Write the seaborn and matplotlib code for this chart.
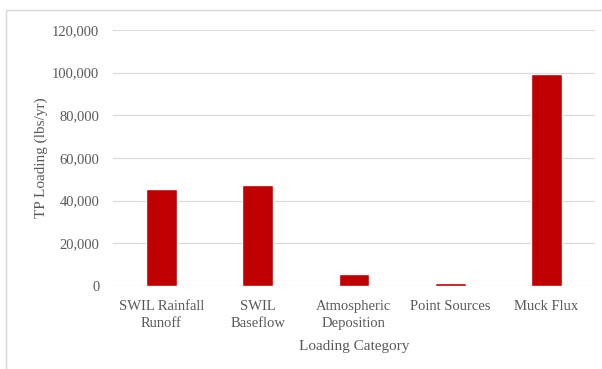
import pandas as pd
import matplotlib.pyplot as plt
import seaborn as sns
from matplotlib.patches import Rectangle
from matplotlib.ticker import FuncFormatter

# loading categories and TP loading values (lbs/yr)
categories = ['SWIL Rainfall\nRunoff', 'SWIL\nBaseflow', 'Atmospheric\nDeposition',
              'Point Sources', 'Muck Flux']
loading = [45500, 47300, 5500, 1300, 99300]
y_ticks = [0, 20000, 40000, 60000, 80000, 100000, 120000]

df = pd.DataFrame({'Loading Category': categories, 'TP Loading': loading})

sns.set_style('white')
plt.rcParams['font.family'] = ['Liberation Serif', 'DejaVu Serif']
text_color = '#595959'

fig = plt.figure(figsize=(6.02, 3.69), dpi=100)
ax = fig.add_axes([0.188, 0.225, 0.800, 0.694])

sns.barplot(data=df, x='Loading Category', y='TP Loading', color='#C00000',
            saturation=1, width=0.32, ax=ax)

ax.set_ylim(0, 120000)
ax.set_yticks(y_ticks)
ax.yaxis.set_major_formatter(FuncFormatter(lambda v, p: f'{int(v):,}'))
ax.grid(axis='y', color='#d9d9d9', linewidth=0.8)
ax.set_axisbelow(True)
for s in ax.spines.values():
    s.set_visible(False)
ax.axhline(0, color='#d9d9d9', linewidth=0.8, zorder=0)

ax.tick_params(axis='both', length=0, labelsize=10.5, colors=text_color, pad=10)
for lbl in ax.get_xticklabels():
    lbl.set_linespacing(1.4)
ax.set_xlabel('Loading Category', fontsize=11, color=text_color, labelpad=7)
ax.set_ylabel('TP Loading (lbs/yr)', fontsize=11, color=text_color, labelpad=3)

# light frame around the chart area
fig.patches.append(Rectangle((6 / 602, -0.01), 1.0, 1 - 10 / 369 + 0.01,
                             transform=fig.transFigure, fill=False,
                             edgecolor='#d9d9d9', linewidth=1))

fig.savefig('out.png', dpi=100)
